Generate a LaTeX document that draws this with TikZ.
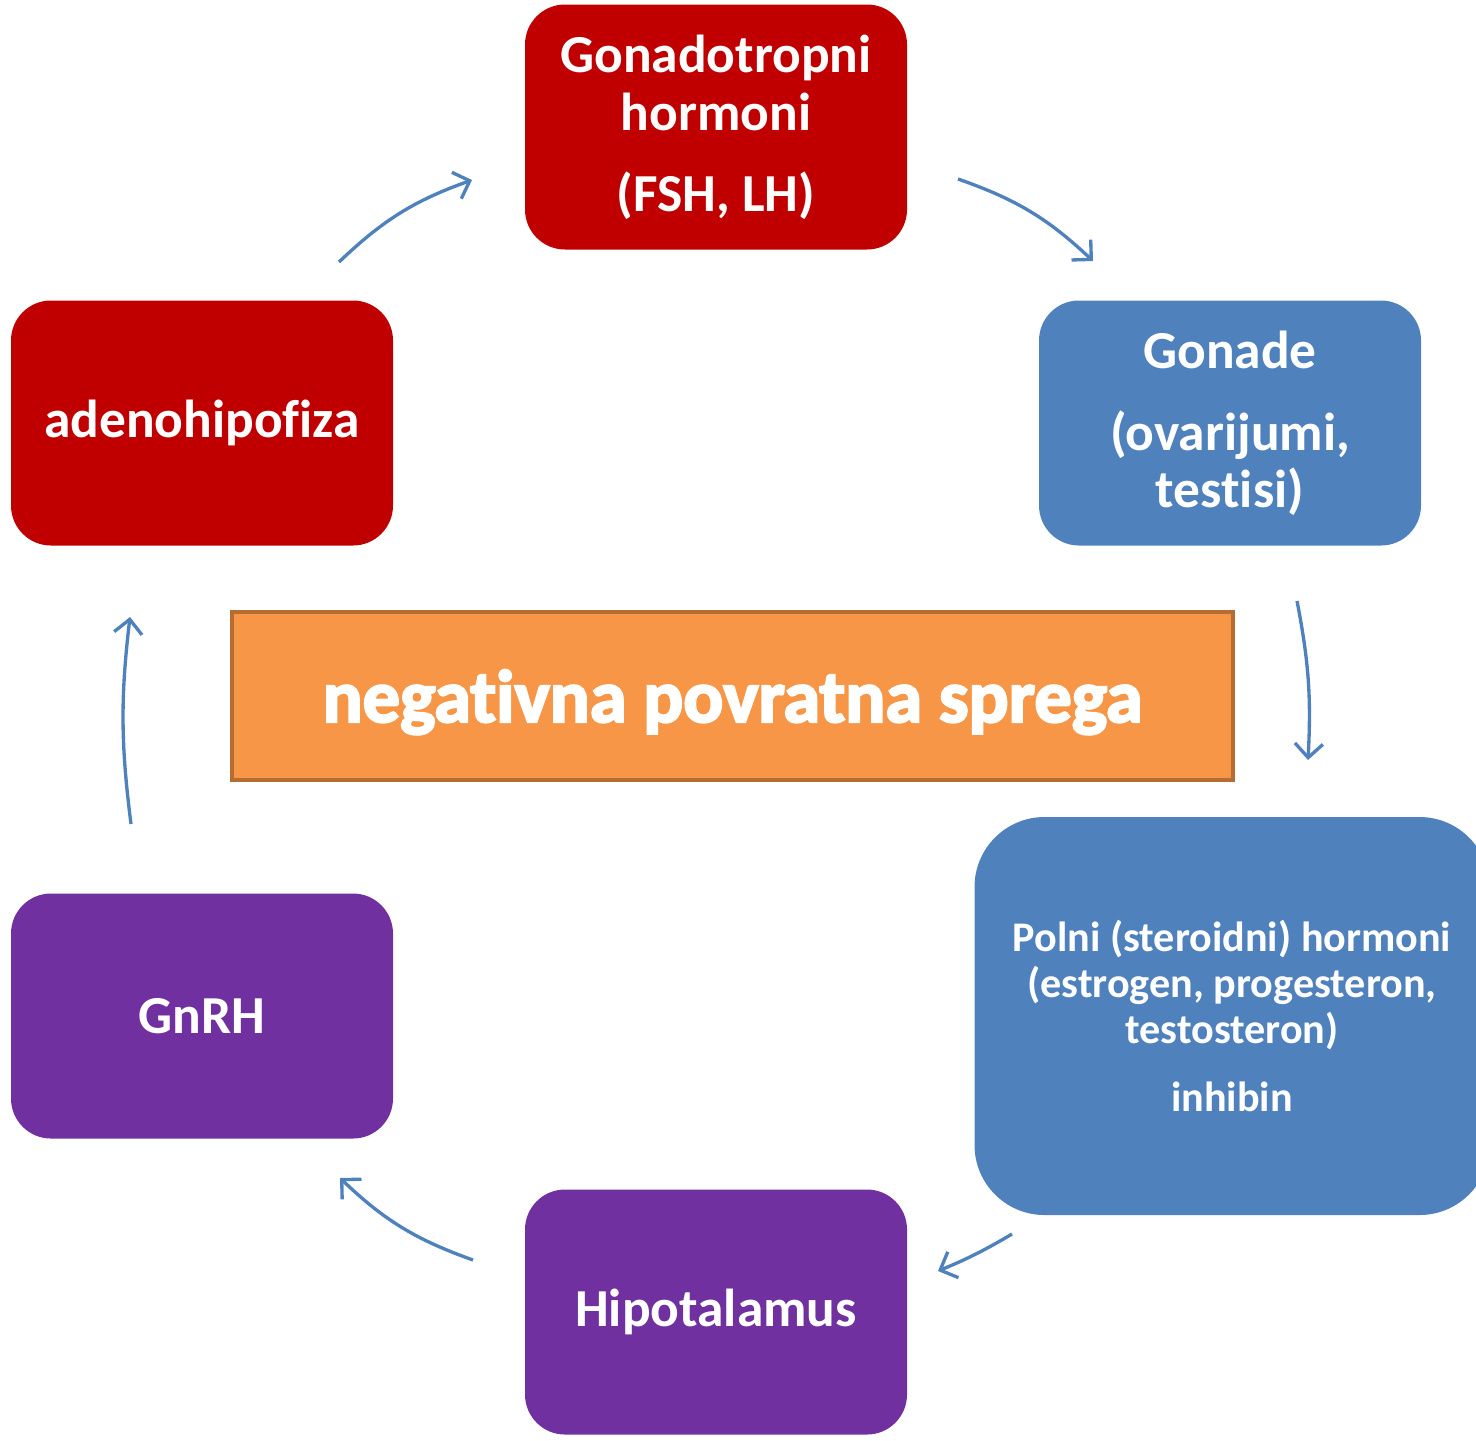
\documentclass[tikz,border=0pt]{standalone}
\usepackage{fontspec}
\setmainfont{Carlito}[Ligatures={NoCommon}]
\newfontfamily\heavyfont{Carlito}[Ligatures={NoCommon}, BoldFeatures={FakeBold=3}]
\usepackage{tikz}
\usetikzlibrary{arrows.meta}
\definecolor{boxred}{HTML}{C00000}
\definecolor{boxblue}{HTML}{4F81BD}
\definecolor{boxpurple}{HTML}{7030A0}
\definecolor{boxorange}{HTML}{F79646}
\definecolor{edgeorange}{HTML}{B66D31}
\tikzset{
box/.style={shape=rectangle, rounded corners=4mm, minimum width=3.82cm, minimum height=2.45cm,
  inner sep=0pt, text=white, align=center, font=\fontsize{15.2}{16.5}\selectfont\bfseries},
cyc/.style={draw=boxblue, line width=0.95pt, -{Straight Barb[length=1.4mm,width=2.8mm]}}
}

\begin{document}
\begin{tikzpicture}
    
                \clip (0,0) rectangle (14.76,-14.40);
                
                \node[box, fill=boxred] (G) at (7.16,-1.27) {Gonadotropni\\hormoni\\[6.5pt](FSH, LH)};
                \node[box, fill=boxred] (A) at (2.02,-4.23) {adenohipofiza};
                \node[box, fill=boxblue] (O) at (12.30,-4.23) {Gonade\\[6.8pt](ovarijumi,\\[-0.2pt]testisi)};
                \node[box, fill=boxblue, rounded corners=7mm, minimum width=5.15cm, minimum height=3.98cm,
                      font=\fontsize{12}{13.1}\selectfont\bfseries] (P) at (12.32,-10.16)
                      {Polni (steroidni) hormoni\\(estrogen, progesteron,\\testosteron)\\[6pt]inhibin};
                \node[box, fill=boxpurple] (R) at (2.02,-10.16) {GnRH};
                \node[box, fill=boxpurple] (H) at (7.16,-13.12) {Hipotalamus};
                \node[shape=rectangle, draw=edgeorange, line width=1.2pt, fill=boxorange, text=white,
                      minimum width=10.01cm, minimum height=1.68cm,
                      font=\heavyfont\fontsize{21.2}{24}\selectfont\bfseries] (N) at (7.325,-6.96)
                      {\raisebox{-7.4pt}[0pt][0pt]{negativna povratna sprega}};
            
                \coordinate (a1) at (3.39,-2.62);  \coordinate (b1) at (4.72,-1.80);
                \coordinate (a2) at (9.58,-1.79);  \coordinate (b2) at (10.93,-2.61);
                \coordinate (a3) at (12.97,-6.01); \coordinate (b3) at (13.08,-7.60);
                \coordinate (a4) at (10.12,-12.34); \coordinate (b4) at (9.38,-12.71);
                \coordinate (a5) at (4.73,-12.60); \coordinate (b5) at (3.40,-11.78);
                \coordinate (a6) at (1.31,-8.24);  \coordinate (b6) at (1.30,-6.17);
            
                \draw[cyc] (a1) to[bend left=12] (b1);
                \draw[cyc] (a2) to[bend left=12] (b2);
                \draw[cyc] (a3) to[bend left=7] (b3);
                \draw[cyc] (a4) to[bend left=4] (b4);
                \draw[cyc] (a5) to[bend left=12] (b5);
                \draw[cyc] (a6) to[bend left=7] (b6);
        
            \end{tikzpicture}
\end{document}
